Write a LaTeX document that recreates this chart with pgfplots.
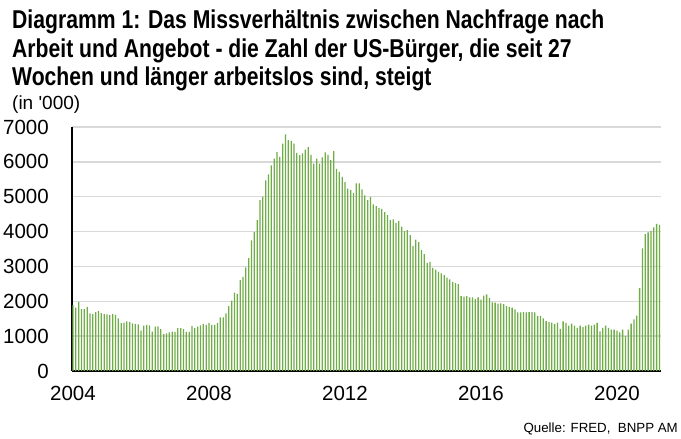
\documentclass[border=0pt]{standalone}
\usepackage{fontspec}
\setmainfont{Liberation Sans}
\newfontfamily\narrowfont[FakeStretch=0.82]{Liberation Sans}
\newfontfamily\plainfont[Ligatures=TeXOff]{Liberation Sans}
\usepackage{pgfplots}
\usepackage{pgfplotstable}
\pgfplotsset{compat=1.18}
\definecolor{barg}{RGB}{112,173,71}
\definecolor{gridg}{RGB}{217,217,217}
\pgfplotstableread{
m v
0 1890
1 1820
2 1985
3 1775
4 1775
5 1840
6 1650
7 1630
8 1690
9 1715
10 1660
11 1630
12 1625
13 1605
14 1630
15 1610
16 1510
17 1370
18 1385
19 1420
20 1410
21 1365
22 1355
23 1340
24 1160
25 1300
26 1320
27 1310
28 1130
29 1270
30 1280
31 1200
32 1060
33 1080
34 1110
35 1130
36 1120
37 1230
38 1230
39 1200
40 1120
41 1120
42 1290
43 1240
44 1270
45 1310
46 1350
47 1320
48 1380
49 1320
50 1320
51 1370
52 1540
53 1540
54 1650
55 1860
56 2020
57 2250
58 2210
59 2610
60 2700
61 2970
62 3240
63 3750
64 3990
65 4330
66 4900
67 5000
68 5470
69 5640
70 5900
71 6090
72 6280
73 6140
74 6520
75 6790
76 6620
77 6600
78 6520
79 6260
80 6190
81 6240
82 6350
83 6420
84 6200
85 5950
86 6090
87 5950
88 6130
89 6270
90 6200
91 6050
92 6310
93 5800
94 5710
95 5570
96 5420
97 5230
98 5190
99 5110
100 5380
101 5380
102 5210
103 5040
104 4900
105 4990
106 4780
107 4730
108 4680
109 4650
110 4560
111 4470
112 4330
113 4350
114 4250
115 4310
116 4140
117 4010
118 4040
119 3900
120 3580
121 3770
122 3700
123 3470
124 3350
125 3100
126 3130
127 2960
128 2910
129 2850
130 2800
131 2750
132 2680
133 2630
134 2550
135 2530
136 2490
137 2150
138 2130
139 2150
140 2110
141 2110
142 2060
143 2110
144 2050
145 2160
146 2200
147 2090
148 1970
149 1960
150 1930
151 1940
152 1920
153 1860
154 1840
155 1820
156 1770
157 1680
158 1680
159 1690
160 1680
161 1690
162 1690
163 1680
164 1580
165 1580
166 1510
167 1430
168 1410
169 1390
170 1350
171 1390
172 1210
173 1420
174 1380
175 1300
176 1360
177 1300
178 1240
179 1300
180 1260
181 1300
182 1330
183 1300
184 1330
185 1380
186 1140
187 1240
188 1300
189 1240
190 1190
191 1190
192 1160
193 1110
194 1190
195 1000
196 1190
197 1360
198 1480
199 1590
200 2380
201 3520
202 3930
203 3980
204 4020
205 4120
206 4220
207 4190
}\ltu
\begin{document}
\begin{tikzpicture}[x=1bp,y=1bp]
\useasboundingbox (0,0) rectangle (681,439);
\begin{scope}[every node/.style={anchor=base west, inner sep=0pt, font=\narrowfont\bfseries\fontsize{25.8bp}{29bp}\selectfont}]
\node at (12,410) {Diagramm 1: Das Missverhältnis zwischen Nachfrage nach};
\node at (12,381) {Arbeit und Angebot - die Zahl der US-Bürger, die seit 27};
\node at (12,353) {Wochen und länger arbeitslos sind, steigt};
\end{scope}
\node[anchor=base west, inner sep=0pt, font=\plainfont\fontsize{19bp}{19bp}\selectfont] at (12,329) {(in '000)};
\node[anchor=base east, inner sep=0pt, font=\fontsize{13.3bp}{14bp}\selectfont] at (678,6) {Quelle: FRED,\ \ BNPP AM};
\begin{axis}[
  at={(72bp,68bp)}, anchor=south west,
  scale only axis, width=589bp, height=244bp,
  xmin=-0.35, xmax=207.55, ymin=0, ymax=7000,
  xtick={0,48,96,144,192}, xticklabels={2004,2008,2012,2016,2020},
  ytick={0,1000,...,7000},
  major tick length=0pt,
  separate axis lines,
  axis x line*=bottom, axis y line*=left,
  axis line style={black, line width=1.6bp, -},
  ymajorgrids, grid style={gridg, line width=1.4bp},
  /pgf/number format/assume math mode=true,
  /pgf/number format/set thousands separator={},
  yticklabel style={font=\fontsize{20.5bp}{20bp}\selectfont, anchor=east, inner sep=0pt, xshift=-23bp},
  xticklabel style={font=\fontsize{20.5bp}{20bp}\selectfont, anchor=north, inner sep=0pt, yshift=-15bp},
  clip=false,
]
\addplot[ybar, bar width=0.45, fill=barg, draw=none] table[x=m, y=v] {\ltu};
\end{axis}
\end{tikzpicture}
\end{document}
